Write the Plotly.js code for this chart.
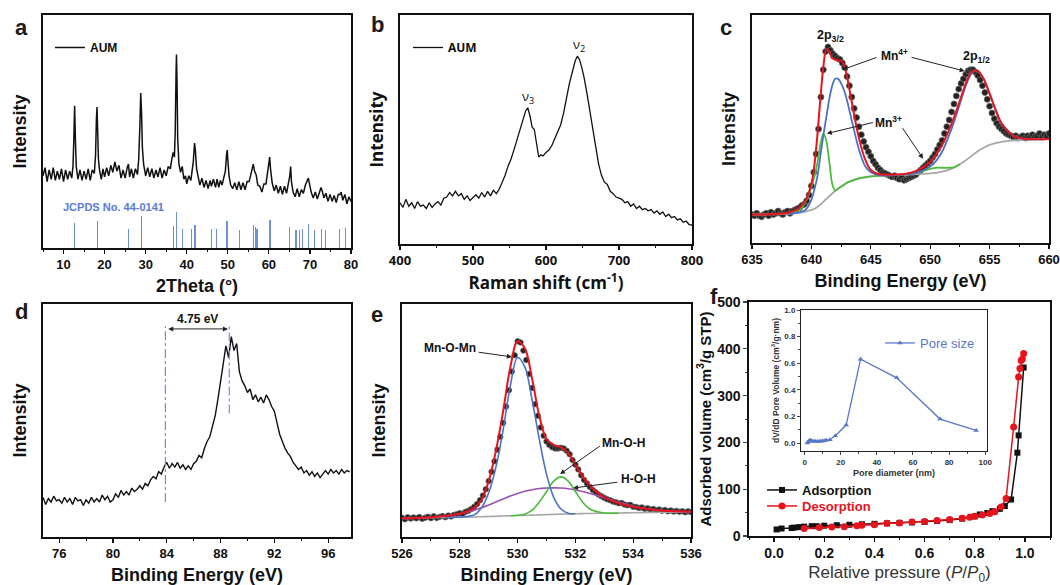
<!DOCTYPE html>
<html><head><meta charset="utf-8">
<script src="https://cdn.plot.ly/plotly-3.0.1.min.js"></script>
<style>html,body{margin:0;padding:0;background:#fff}#chart{width:1060px;height:585px}</style>
</head><body><div id="chart"></div>
<script>
// ---------- Panel a: XRD ----------
const xrdX = [5.0,5.5,6.0,6.5,7.0,7.5,8.0,8.5,9.0,9.5,10.0,10.5,11.0,11.5,12.0,12.3,12.5,12.7,12.9,13.1,13.5,14.0,14.5,15.0,15.5,16.0,16.5,17.0,17.5,17.8,18.0,18.15,18.3,18.5,18.8,19.2,19.6,20.0,20.5,21.0,21.5,22.0,22.5,23.0,23.5,24.0,24.5,25.0,25.5,25.8,26.1,26.5,27.0,27.5,28.0,28.3,28.6,28.8,29.0,29.2,29.5,30.0,30.5,31.0,31.5,32.0,32.5,33.0,33.5,34.0,34.5,35.0,35.5,36.0,36.4,36.7,37.0,37.2,37.4,37.5,37.65,37.8,38.1,38.5,38.9,39.3,39.7,40.0,40.5,41.0,41.3,41.6,41.9,42.1,42.4,42.8,43.2,43.7,44.2,44.7,45.2,45.7,46.0,46.5,47.0,47.4,47.8,48.2,48.6,49.0,49.4,49.7,49.85,50.0,50.3,50.7,51.2,51.7,52.2,52.7,53.2,53.7,54.2,54.7,55.2,55.6,55.9,56.2,56.5,56.9,57.3,57.8,58.3,58.8,59.3,59.7,60.0,60.2,60.4,60.8,61.3,61.8,62.3,62.8,63.3,63.8,64.3,64.8,65.1,65.3,65.5,65.9,66.4,66.9,67.4,67.9,68.4,68.9,69.3,69.6,69.9,70.3,70.8,71.3,71.8,72.3,72.7,73.0,73.4,73.9,74.4,74.9,75.4,75.9,76.4,76.9,77.3,77.6,78.0,78.5,79.0,79.5,80.0];
const xrdY = [31,34.5,28.5,33.5,29.5,34.5,29,33,29.5,34,28.5,33.5,29.5,33,30,35,46,61,46,35,29.5,33.5,29,33,29.5,34,29,33.5,32,40,55,60.5,51,38,33,29.5,34,30.5,34.5,31,35.5,32.5,37,33,35.5,30,33.5,30,34.5,36,30.5,34,30,34,31.5,38,53,66.5,58,43,36,31,34.5,30.5,34,30,33.5,30.5,34.5,30,33.5,31,35,34,38.5,41,39,50,75,83,70,47,36,32.5,35,29.5,31,27.5,31,29,33,37,45,42,34,29.5,27,30,26,29,25.5,29,26.5,29.5,26,29.5,26,29,27,30,33,40,42,38,31,27,25.5,28,25,28.5,25,28,25,28.5,28.5,31.5,34,36,33,31.5,27,26.5,24,27.5,27.5,32,37,39,34,28,24.5,27,23.5,26.5,23,26.5,23.5,27.5,31,35,28.5,24,22,25.5,22,25,23.5,27,29,30,27.5,24,21.5,24,21,24.5,26,24.5,21.5,23.5,20,23,20,22.5,19.5,23,23,24,20.5,23,19,22,20];
const jcpdsX = [12.7,18.2,25.8,28.9,36.7,37.5,39.0,41.2,42.0,46.0,47.3,49.8,52.8,56.3,56.8,57.1,60.3,65.1,66.6,67.5,68.1,69.6,71.1,72.8,73.8,77.2,78.7];
const jcpdsY = [10.7,11.6,8,13.7,9.4,15.4,8.2,8,10,8,8.2,11.6,7.7,10,9,8.3,12.2,9,7.8,7.8,8,10.4,7.7,8.2,7.8,8,8.6];

// ---------- Panel b: Raman ----------
const ramX = [400,404,408,412,416,420,424,428,432,436,440,444,448,452,456,460,464,468,472,476,480,484,488,492,496,500,504,508,512,516,520,524,528,532,536,540,544,548,552,556,560,564,568,572,575,578,581,584,587,590,593,596,600,604,608,612,616,620,624,628,632,636,640,643,646,649,652,656,660,664,668,672,676,680,684,688,692,696,700,704,708,712,716,720,724,728,732,736,740,744,748,752,756,760,764,768,772,776,780,784,788,792,796,800];
const ramY = [18,16,19.5,16.5,18,15.5,18.5,16.5,17,15.5,18,16,17.5,18.5,17,20,20.5,22.5,21,23,21,22,19.5,21,19,20.5,21.5,20,22.5,20.5,23,21,23.5,22,24,27,30,34,37,41,45,49,54,58,59.5,56,51,50,44,38,39,38.5,40,41,43,46,49,52,57,64,70,75,80,82,80.5,77,73,66,58,50,42,35,30,27,26,23,22,20.5,20,19.5,18,18.5,16.5,17.5,15.5,16.5,15,15.5,14.5,15,13.5,14.5,13,14,12,13,11.5,12,10.5,11,9.5,10,8.5,8.3];

// ---------- Panel c: Mn 2p XPS ----------
const cX = [635.0,635.2,635.4,635.6,635.8,636.0,636.2,636.4,636.6,636.8,637.0,637.2,637.4,637.6,637.8,638.0,638.2,638.4,638.6,638.8,639.0,639.2,639.4,639.6,639.8,640.0,640.2,640.4,640.6,640.8,641.0,641.2,641.4,641.6,641.8,642.0,642.2,642.4,642.6,642.8,643.0,643.2,643.4,643.6,643.8,644.0,644.2,644.4,644.6,644.8,645.0,645.2,645.4,645.6,645.8,646.0,646.2,646.4,646.6,646.8,647.0,647.2,647.4,647.6,647.8,648.0,648.2,648.4,648.6,648.8,649.0,649.2,649.4,649.6,649.8,650.0,650.2,650.4,650.6,650.8,651.0,651.2,651.4,651.6,651.8,652.0,652.2,652.4,652.6,652.8,653.0,653.2,653.4,653.6,653.8,654.0,654.2,654.4,654.6,654.8,655.0,655.2,655.4,655.6,655.8,656.0,656.2,656.4,656.6,656.8,657.0,657.2,657.4,657.6,657.8,658.0,658.2,658.4,658.6,658.8,659.0,659.2,659.4,659.6,659.8,660.0];
const cY = [12.5,12,13,12,11.5,12.5,13,12,13.5,12.5,13,14,13,12.5,13.5,14,13,14,14.5,15,15.5,16.5,17,18.5,21,25,31,39,50,64,76,84,86,84.5,83,82,81,80.5,79,77,73,69,64,59,55,51,47.5,44.5,42,40,38,36,34.5,33,32,31,30.5,30,29.5,29,29.5,28.5,28,29,27.5,28,28.5,29,29.5,30,31,32,33,34,35,36,37.5,39,41,43,45,48,51,54,57.5,61,64.5,67.5,70,72,74,75.5,76,76,75,73.5,71.5,69,66,63,60,57,54.5,52.5,51,50,49,48,47.5,47,46.5,47,46,46.5,47,46,47,46.5,47.5,46.5,47,48,46.5,47.5,47,48];
const cFitX = [635,636,637,638,638.5,639,639.5,640,640.25,640.5,640.75,641,641.25,641.5,641.75,642,642.25,642.5,642.75,643,643.25,643.5,644,644.5,645,645.5,646,647,648,649,650,650.5,651,651.5,652,652.5,653,653.5,654,654.5,655,655.5,656,657,658,659,660];
const cBg    = [12.5,12.5,12.6,12.8,13,13.3,13.8,14.5,15,15.8,16.8,18,19.3,20.5,21.7,22.8,23.8,24.8,25.6,26.4,27,27.5,28.3,28.8,29.2,29.4,29.6,29.8,30,30.2,30.5,30.8,31.3,32,33,34.5,36.3,38.3,40.2,41.8,43,43.8,44.4,45,45.3,45.5,45.6];
const cMn4   = [null,null,null,12.8,13,13.4,14.5,19,23.5,29,38,47,55,63,69,72,72,70,67,62.5,57,51.5,41,34,31,30,29.7,29.8,30.1,31,33.5,36,40,46,53,61,69,74.5,75.5,72,65.5,58.5,52.5,47,45.6,45.5,45.6];
const cMn3   = [null,null,12.7,13.2,13.8,14.5,18,24.5,29,35,43,48,45,36,26,23,23.8,24.8,25.6,26.4,27,27.5,28.3,28.8,29.2,29.4,29.6,29.8,30.2,31,32.5,33,33,33,33.2,34.5,null,null,null,null,null,null,null,null,null,null,null];
const cSum   = [12.5,12.5,12.7,13.3,14,15.5,18.5,26,34,47,63,77,85,84,81,80.5,80,80,78,73,66,59,46,37,32,30.5,30,30,30.4,32,35.5,39,43,48.5,55,62.5,70,75,75.5,72,65.5,58.5,52.5,47,45.6,45.5,45.6];

// ---------- Panel d: Mn 3s XPS ----------
const dX = [74.8,75.0,75.2,75.4,75.6,75.8,76.0,76.2,76.4,76.6,76.8,77.0,77.2,77.4,77.6,77.8,78.0,78.2,78.4,78.6,78.8,79.0,79.2,79.4,79.6,79.8,80.0,80.2,80.4,80.6,80.8,81.0,81.2,81.4,81.6,81.8,82.0,82.2,82.4,82.6,82.8,83.0,83.2,83.4,83.6,83.8,84.0,84.2,84.4,84.6,84.8,85.0,85.2,85.4,85.6,85.8,86.0,86.2,86.4,86.6,86.8,87.0,87.2,87.4,87.6,87.8,88.0,88.2,88.4,88.6,88.8,89.0,89.2,89.4,89.6,89.8,90.0,90.2,90.4,90.6,90.8,91.0,91.2,91.4,91.6,91.8,92.0,92.2,92.4,92.6,92.8,93.0,93.2,93.4,93.6,93.8,94.0,94.2,94.4,94.6,94.8,95.0,95.2,95.4,95.6,95.8,96.0,96.2,96.4,96.6,96.8,97.0,97.2,97.4,97.6];
const dY = [17,14,16.5,15,17.5,15.5,16,14.5,17,15,16.5,14,17,15.5,16,13.5,16,14.5,17,15,16.5,15,18,16,17.5,15,16,18.5,17,20,18,19.5,18,21,19.5,20.5,22,20.5,23,22,24.5,26,25,28,27,30,32,29.5,31.5,30,32,29.5,31,29,30.5,29,31.5,32.5,35,34,38,41,43,47,52,59,67,74,82,77,86,80,83,71,67,65,62,63.5,59,61,58,60,57.5,61,59,56,54,49,44,41,38,36,34.5,32,30.5,29,30,27.5,28.5,26.5,28,26,27.5,25.5,27,28.5,27,29,27.5,28.5,27,29,27.5,28.5,28];
const dRefX = [83.9, 88.65];
const dRefBottom = [15, 53];
const dRefTop = [90.5, 90.5];

// ---------- Panel e: O 1s XPS ----------
const eX = [526.0,526.1,526.2,526.3,526.4,526.5,526.6,526.7,526.8,526.9,527.0,527.1,527.2,527.3,527.4,527.5,527.6,527.7,527.8,527.9,528.0,528.1,528.2,528.3,528.4,528.5,528.6,528.7,528.8,528.9,529.0,529.1,529.2,529.3,529.4,529.5,529.6,529.7,529.8,529.9,530.0,530.1,530.2,530.3,530.4,530.5,530.6,530.7,530.8,530.9,531.0,531.1,531.2,531.3,531.4,531.5,531.6,531.7,531.8,531.9,532.0,532.1,532.2,532.3,532.4,532.5,532.6,532.7,532.8,532.9,533.0,533.1,533.2,533.3,533.4,533.5,533.6,533.7,533.8,533.9,534.0,534.1,534.2,534.3,534.4,534.5,534.6,534.7,534.8,534.9,535.0,535.1,535.2,535.3,535.4,535.5,535.6,535.7,535.8,535.9,536.0];
const eY = [8.3,7.6,8.5,7.9,8.4,8.0,8.6,7.8,8.3,8.7,8.1,8.9,8.2,8.6,9.0,8.5,9.2,8.8,9.5,9.8,10.2,10.0,10.8,11.3,12.0,13.0,14.2,15.8,17.8,20.5,24,28,32.5,37.5,43,49,56,63,71,78,84,83.5,80,76,70,64,57,52,47,43.5,41,39.5,38.5,38,38,38.3,38,37,35.5,33,31,29,26.5,24.5,23,21.5,20.2,19.2,18.2,17.5,16.8,16.2,15.8,15.2,14.9,14.5,14.6,13.9,13.6,13.8,13.0,12.9,12.5,12.7,12.1,12.3,11.8,12.0,11.5,11.8,11.3,11.6,11.0,11.4,10.9,11.2,10.8,11.1,10.6,11.0,10.7];
const eFitX = [526,526.5,527,527.5,528,528.5,528.75,529,529.25,529.5,529.75,530,530.25,530.5,530.75,531,531.25,531.5,531.75,532,532.25,532.5,533,533.5,534,534.5,535,535.5,536];
const eBg   = [8,8.1,8.3,8.4,8.5,8.6,8.7,8.8,8.9,9,9.1,9.2,9.3,9.4,9.5,9.6,9.7,9.8,9.9,10,10.05,10.1,10.2,10.3,10.4,10.5,10.6,10.65,10.7];
const eMnOMn= [null,null,null,8.4,8.6,9.5,12.5,19,30,46,65,77,73,59,42,27,17,12,10.2,10,null,null,null,null,null,null,null,null,null];
const eMnOH = [null,null,null,null,null,null,null,null,null,null,9.1,9.3,9.8,11.5,15,19.5,24,25.8,24,19.5,15,12,10.3,10.3,null,null,null,null,null];
const eHOH  = [8,8.2,8.5,9,10,11.5,12.5,13.7,15,16.3,17.6,18.7,19.6,20.3,20.8,21,21.1,21,20.7,20.2,19.5,18.7,16.9,14.9,13.2,12.1,11.3,11,10.8];
const eSum  = [8,8.2,8.5,9,10,12.5,16,24,37,54,73,84,81,68,52,42,39.5,38.5,36,31,26,22,17,14.5,13,12,11.3,11,10.8];

// ---------- Panel f: N2 isotherm + pore size ----------
const adsX = [0.01,0.03,0.07,0.08,0.1,0.12,0.15,0.17,0.2,0.25,0.3,0.35,0.4,0.45,0.5,0.55,0.6,0.65,0.7,0.75,0.8,0.82,0.85,0.87,0.9,0.92,0.945,0.97,0.975,0.995];
const adsY = [14,16,17,18,19,20,21,21,22,23,24,25,26,27,28,29,30,32,34,37,42,46,49,53,58,64,78,178,215,360];
const desX = [0.995,0.99,0.985,0.98,0.975,0.955,0.925,0.905,0.88,0.86,0.83,0.8,0.78,0.75,0.7,0.65,0.6,0.55,0.5,0.45,0.4,0.35,0.33,0.28,0.23,0.18,0.12];
const desY = [390,378,375,358,340,233,80,62,52,48,45,42,40,38,35,33,31,30,28,27,24,23,22,20,19,18,16];
const poreX = [1.5,2,2.5,3,3.5,4,5,6,7,8,9,10,11,12,14,17,23,31,51,75,95];
const poreY = [0.0,0.01,0.015,0.02,0.018,0.015,0.013,0.012,0.011,0.012,0.013,0.015,0.017,0.02,0.025,0.055,0.135,0.63,0.49,0.18,0.095];

// ---------- styling ----------
const F = 'Liberation Sans, Arial, sans-serif';
const OS = 'Open Sans, Liberation Sans, sans-serif';
const W = 1060, H = 585;
const px = v => v / W, py = v => 1 - v / H;
const BLUE = '#4a72c8', GREEN = '#4cbb3a', GRAY = '#a8a8a8', RED = '#e8141c', PURPLE = '#9b50b4', JBLUE = '#6f8fd8';

function xAxis(d0, d1, anchor, range, dtick, mdt, title, fam, tsize, standoff, tweight, tcolor) {
  return {domain:[px(d0),px(d1)], anchor, range, dtick, tick0:0, showgrid:false, zeroline:false,
    showline:true, linecolor:'#111', linewidth:1.6, mirror:true,
    ticks:'outside', ticklen:4, tickwidth:1.2, tickcolor:'#111',
    minor:{dtick:mdt, ticks:'outside', ticklen:2.5, tickwidth:1, tickcolor:'#111', showgrid:false},
    tickfont:{family:fam, size:13, weight:'bold', color:'#111'},
    title:{text:title, standoff, font:{family:fam, size:tsize, weight:tweight||'bold', color:tcolor||'#111'}},
    automargin:false, fixedrange:true};
}
function yAxis(b, t, anchor, range, title, fam, tsize, standoff) {
  return {domain:[py(b),py(t)], anchor, range, showgrid:false, zeroline:false,
    showline:true, linecolor:'#111', linewidth:1.6, mirror:true, ticks:'', showticklabels:false,
    title:{text:title, standoff, font:{family:fam, size:tsize, weight:'bold', color:'#111'}},
    automargin:false, fixedrange:true};
}

const traces = [
  {type:'scatter', mode:'lines', x:xrdX, y:xrdY, xaxis:'x', yaxis:'y', name:'AUM', legend:'legend',
   line:{color:'#111', width:1.5}},
  {type:'bar', x:jcpdsX, y:jcpdsY, xaxis:'x', yaxis:'y', width:0.3, marker:{color:JBLUE, line:{width:0}}, showlegend:false},
  {type:'scatter', mode:'lines', x:ramX, y:ramY, xaxis:'x2', yaxis:'y2', name:'AUM', legend:'legend2',
   line:{color:'#111', width:1.3}},
  {type:'scatter', mode:'markers', x:cX, y:cY, xaxis:'x3', yaxis:'y3', showlegend:false,
   marker:{symbol:'circle', size:6, color:'#222', line:{color:'#666', width:0.8}}},
  {type:'scatter', mode:'lines', x:cFitX, y:cBg, xaxis:'x3', yaxis:'y3', showlegend:false, line:{color:GRAY, width:1.8, shape:'spline', smoothing:0.8}},
  {type:'scatter', mode:'lines', x:cFitX, y:cMn3, xaxis:'x3', yaxis:'y3', showlegend:false, line:{color:GREEN, width:1.8, shape:'spline', smoothing:0.8}},
  {type:'scatter', mode:'lines', x:cFitX, y:cMn4, xaxis:'x3', yaxis:'y3', showlegend:false, line:{color:BLUE, width:1.8, shape:'spline', smoothing:0.8}},
  {type:'scatter', mode:'lines', x:cFitX, y:cSum, xaxis:'x3', yaxis:'y3', showlegend:false, line:{color:RED, width:2, shape:'spline', smoothing:0.8}},
  {type:'scatter', mode:'lines', x:dX, y:dY, xaxis:'x4', yaxis:'y4', showlegend:false, line:{color:'#111', width:1.4}},
  {type:'scatter', mode:'lines', x:[dRefX[0],dRefX[0]], y:[dRefBottom[0],dRefTop[0]], xaxis:'x4', yaxis:'y4', showlegend:false, line:{color:JBLUE, width:1.2, dash:'dashdot'}},
  {type:'scatter', mode:'lines', x:[dRefX[1],dRefX[1]], y:[dRefBottom[1],dRefTop[1]], xaxis:'x4', yaxis:'y4', showlegend:false, line:{color:JBLUE, width:1.2, dash:'dashdot'}},
  {type:'scatter', mode:'markers', x:eX, y:eY, xaxis:'x5', yaxis:'y5', showlegend:false,
   marker:{symbol:'circle', size:5.5, color:'#222', line:{color:'#666', width:0.8}}},
  {type:'scatter', mode:'lines', x:eFitX, y:eBg, xaxis:'x5', yaxis:'y5', showlegend:false, line:{color:GRAY, width:1.6, shape:'spline'}},
  {type:'scatter', mode:'lines', x:eFitX, y:eHOH, xaxis:'x5', yaxis:'y5', showlegend:false, line:{color:PURPLE, width:1.6, shape:'spline'}},
  {type:'scatter', mode:'lines', x:eFitX, y:eMnOH, xaxis:'x5', yaxis:'y5', showlegend:false, line:{color:GREEN, width:1.6, shape:'spline'}},
  {type:'scatter', mode:'lines', x:eFitX, y:eMnOMn, xaxis:'x5', yaxis:'y5', showlegend:false, line:{color:BLUE, width:1.6, shape:'spline'}},
  {type:'scatter', mode:'lines', x:eFitX, y:eSum, xaxis:'x5', yaxis:'y5', showlegend:false, line:{color:RED, width:2, shape:'spline'}},
  {type:'scatter', mode:'lines+markers', x:adsX, y:adsY, xaxis:'x6', yaxis:'y6', name:'Adsorption', legend:'legend3',
   line:{color:'#111', width:1.5}, marker:{symbol:'square', size:6, color:'#111'}},
  {type:'scatter', mode:'lines+markers', x:desX, y:desY, xaxis:'x6', yaxis:'y6', name:'<span style="color:#e8141c">Desorption</span>', legend:'legend5',
   line:{color:RED, width:1.5}, marker:{symbol:'circle', size:7, color:RED}},
  {type:'scatter', mode:'lines+markers', x:poreX, y:poreY, xaxis:'x7', yaxis:'y7', name:'Pore size', legend:'legend4',
   line:{color:'#5a78c8', width:1.3}, marker:{symbol:'triangle-up', size:5, color:'#5a78c8'}}
];

function arrow(xr, yr, hx, hy, tx, ty) {
  return {xref:xr, yref:yr, axref:xr, ayref:yr, x:hx, y:hy, ax:tx, ay:ty, text:'', showarrow:true,
    arrowhead:2, arrowsize:1, arrowwidth:1, arrowcolor:'#222', standoff:0, startstandoff:0};
}
function label(xr, yr, x, y, text, size, opts) {
  return Object.assign({xref:xr, yref:yr, x, y, text, showarrow:false,
    font:{family:F, size, weight:'bold', color:'#111'}}, opts||{});
}
function letter(x, y, t) {
  return {xref:'paper', yref:'paper', x:px(x), y:py(y), text:t, showarrow:false, xanchor:'center', yanchor:'middle',
    font:{family:F, size:22, weight:'bold', color:'#1e1a18'}};
}

const annotations = [
  letter(21, 27, 'a'), letter(377, 25, 'b'), letter(726, 27, 'c'),
  letter(21, 311, 'd'), letter(377, 314, 'e'), letter(714, 296, 'f'),
  label('x','y', 9.3, 17.6, 'JCPDS No. 44-0141', 11, {xanchor:'left', font:{family:F, size:11, weight:'bold', color:'#5b7bd5'}}),
  label('x2','y2', 576, 64, 'ν<sub>3</sub>', 13, {font:{family:OS, size:13, color:'#111'}}),
  label('x2','y2', 645, 87, 'ν<sub>2</sub>', 13, {font:{family:OS, size:13, color:'#111'}}),
  label('x3','y3', 641.6, 91, '2p<sub>3/2</sub>', 12.5),
  label('x3','y3', 653.9, 81.6, '2p<sub>1/2</sub>', 12.5),
  label('x3','y3', 647.0, 82.5, 'Mn<sup>4+</sup>', 12),
  arrow('x3','y3', 642.6, 76, 645.6, 81.6),
  arrow('x3','y3', 652.9, 75.4, 648.3, 81.6),
  label('x3','y3', 646.5, 53, 'Mn<sup>3+</sup>', 12),
  arrow('x3','y3', 641.3, 48, 645.3, 53),
  arrow('x3','y3', 649.4, 37, 647.6, 51),
  label('x4','y4', 86.3, 93.6, '4.75 eV', 12),
  {xref:'x4', yref:'y4', axref:'x4', ayref:'y4', x:88.55, y:89.3, ax:84.0, ay:89.3, text:'', showarrow:true,
   arrowhead:2, arrowside:'end+start', arrowsize:1, arrowwidth:1, arrowcolor:'#222', standoff:0, startstandoff:0},
  label('x5','y5', 527.66, 81, 'Mn-O-Mn', 12),
  arrow('x5','y5', 529.8, 77.3, 528.6, 79.4),
  label('x5','y5', 533.66, 40.3, 'Mn-O-H', 12),
  arrow('x5','y5', 531.47, 27, 532.9, 39.5),
  label('x5','y5', 534.17, 25, 'H-O-H', 12),
  arrow('x5','y5', 531.92, 21, 533.5, 23.6)
];

const legBase = {bgcolor:'rgba(0,0,0,0)', borderwidth:0, xanchor:'left', yanchor:'top', itemwidth:30, tracegroupgap:0};
const layout = {
  width:W, height:H, margin:{l:0, r:0, t:0, b:0}, paper_bgcolor:'#fff', plot_bgcolor:'rgba(0,0,0,0)',
  font:{family:F, color:'#111'},
  bargap:0,
  xaxis:  xAxis(43, 351, 'y', [5,80], 10, 5, '2Theta (°)', F, 18, 8),
  yaxis:  yAxis(248, 15, 'x', [0,100], 'Intensity', F, 18, 10),
  xaxis2: xAxis(400, 692, 'y2', [400,800], 100, 50, 'Raman shift (cm<sup>-1</sup>)', OS, 17, 8),
  yaxis2: yAxis(244, 15, 'x2', [0,100], 'Intensity', OS, 17, 10),
  xaxis3: xAxis(752, 1049, 'y3', [635,660], 5, 2.5, 'Binding Energy (eV)', F, 18, 8),
  yaxis3: yAxis(243, 15, 'x3', [0,100], 'Intensity', F, 18, 10),
  xaxis4: xAxis(43, 351, 'y4', [74.8,97.7], 4, 2, 'Binding Energy (eV)', F, 18, 8),
  yaxis4: yAxis(537, 304, 'x4', [0,100], 'Intensity', F, 18, 10),
  xaxis5: xAxis(402, 691, 'y5', [526,536], 2, 1, 'Binding Energy (eV)', F, 18, 8),
  yaxis5: yAxis(537, 304, 'x5', [0,100], 'Intensity', F, 18, 10),
  xaxis6: Object.assign(xAxis(749, 1050, 'y6', [-0.1,1.1], 0.2, 0.1, 'Relative pressure (<i>P</i>/<i>P</i><sub>0</sub>)', F, 17, 6, 'normal', '#333'),
           {tickformat:'.1f', tickfont:{family:F, size:14, weight:'bold', color:'#111'}}),
  yaxis6: {domain:[py(536),py(302)], anchor:'x6', range:[0,500], dtick:100, showgrid:false, zeroline:false,
    showline:true, linecolor:'#111', linewidth:1.6, mirror:true, ticks:'outside', ticklen:4, tickwidth:1.2,
    minor:{dtick:50, ticks:'outside', ticklen:2.5, tickwidth:1},
    tickfont:{family:F, size:14, weight:'bold', color:'#111'},
    title:{text:'Adsorbed volume (cm<sup>3</sup>/g STP)', standoff:2, font:{family:F, size:15, weight:'bold', color:'#111'}},
    automargin:false},
  xaxis7: {domain:[px(801),px(987)], anchor:'y7', range:[-2,101], dtick:20, showgrid:false, zeroline:false,
    showline:true, linecolor:'#222', linewidth:1, mirror:true, ticks:'outside', ticklen:3, tickwidth:1,
    minor:{dtick:10, ticks:'outside', ticklen:2},
    tickfont:{family:F, size:8, weight:'bold', color:'#333'},
    title:{text:'Pore diameter (nm)', standoff:4, font:{family:F, size:9, weight:'bold', color:'#333'}}, automargin:false},
  yaxis7: {domain:[py(451),py(310)], anchor:'x7', range:[-0.06,1.0], dtick:0.2, tickformat:'.1f', showgrid:false, zeroline:false,
    showline:true, linecolor:'#222', linewidth:1, mirror:true, ticks:'outside', ticklen:3, tickwidth:1,
    minor:{dtick:0.1, ticks:'outside', ticklen:2},
    tickfont:{family:F, size:8, weight:'bold', color:'#333'},
    title:{text:'dV/dD Pore Volume (cm<sup>3</sup>/g·nm)', standoff:3, font:{family:F, size:8.5, weight:'bold', color:'#333'}}, automargin:false},
  legend:  Object.assign({}, legBase, {x:px(50), y:py(33), font:{family:F, size:12, weight:'bold', color:'#111'}}),
  legend2: Object.assign({}, legBase, {x:px(408), y:py(33), font:{family:OS, size:12, weight:'bold', color:'#111'}}),
  legend3: Object.assign({}, legBase, {x:px(762), y:py(475), font:{family:F, size:13, weight:'bold', color:'#111'}}),
  legend5: Object.assign({}, legBase, {x:px(762), y:py(491), font:{family:F, size:13, weight:'bold', color:'#111'}}),
  legend4: Object.assign({}, legBase, {x:px(880), y:py(328), font:{family:F, size:13, color:'#5a78c8'}}),
  annotations
};

Plotly.newPlot('chart', traces, layout, {displayModeBar:false, staticPlot:true});
</script></body></html>
